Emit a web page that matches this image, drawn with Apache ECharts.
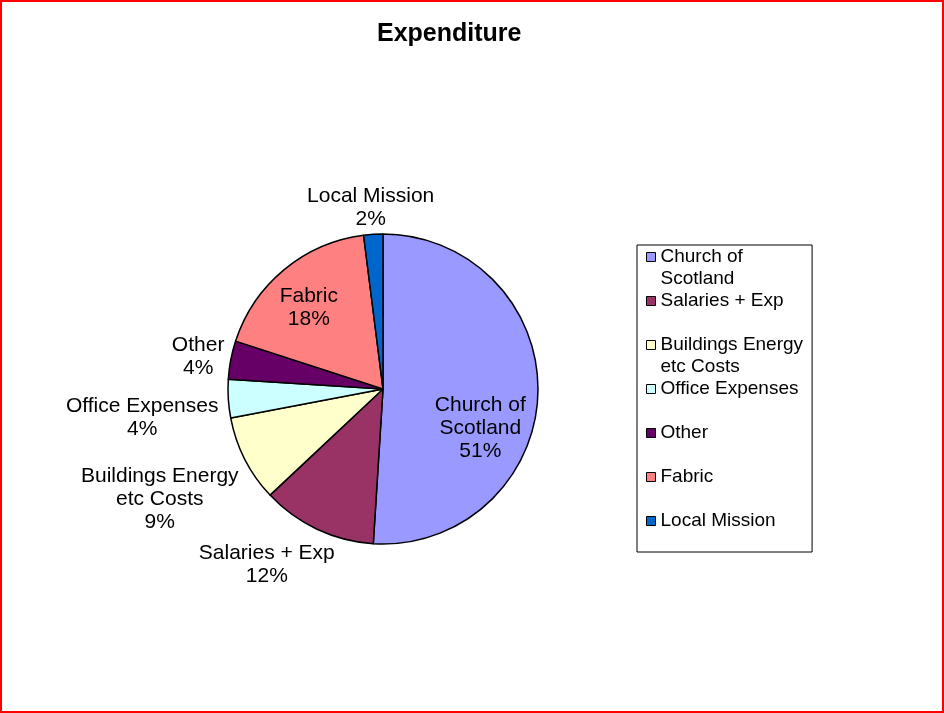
<!DOCTYPE html>
<html>
<head>
<meta charset="utf-8">
<title>Expenditure</title>
<script src="https://cdn.jsdelivr.net/npm/echarts@6/dist/echarts.min.js"></script>
<style>
  html, body { margin: 0; padding: 0; background: #fff; }
  #chart { position: absolute; left: 0; top: 0; width: 944px; height: 713px; }
  #frame { position: absolute; left: 0; top: 0; width: 944px; height: 713px; box-sizing: border-box; border: 2px solid #ff0000; pointer-events: none; }
</style>
</head>
<body>
<div id="chart"></div>
<div id="frame"></div>
<script>
  // data (percent of total)
  var categories = ['Church of Scotland', 'Salaries + Exp', 'Buildings Energy etc Costs', 'Office Expenses', 'Other', 'Fabric', 'Local Mission'];
  var values = [51, 12, 9, 4, 4, 18, 2];
  // how the names wrap in the labels and legend
  var wrappedNames = ['Church of\nScotland', 'Salaries + Exp', 'Buildings Energy\netc Costs', 'Office Expenses', 'Other', 'Fabric', 'Local Mission'];
  var colors = ['#9999ff', '#993366', '#ffffcc', '#ccffff', '#660066', '#ff8080', '#0066cc'];
  var insideLabels = ['Church of Scotland', 'Fabric'];
  // small hand nudges so the labels sit where Excel put them
  var labelNudge = [[-8, 36], [-17, 6], [-6, 20], [0, 17], [3, 3], [-7, 0], [2, 6]];

  var FONT = '"Liberation Sans", Arial, sans-serif';
  var PIE_CENTER = [383, 389];
  var PIE_R = 155;

  var chart = echarts.init(document.getElementById('chart'));

  var pieData = categories.map(function (name, i) {
    var item = { name: name, value: values[i] };
    if (insideLabels.indexOf(name) >= 0) {
      item.label = { position: 'inside' };
    }
    return item;
  });

  chart.setOption({
    animation: false,
    color: colors,
    title: {
      text: 'Expenditure',
      left: 372,
      top: 17,
      textStyle: { fontFamily: FONT, fontSize: 25, fontWeight: 'bold', color: '#000' }
    },
    legend: {
      orient: 'vertical',
      left: 637,
      top: 245,
      padding: [-21, 9, -2, 9],
      itemGap: -22,
      itemWidth: 9,
      itemHeight: 9,
      icon: 'rect',
      borderColor: '#000',
      borderWidth: 1,
      backgroundColor: '#fff',
      itemStyle: { borderColor: '#000', borderWidth: 1 },
      textStyle: { fontFamily: FONT, fontSize: 19, lineHeight: 22, color: '#000' },
      formatter: function (name) {
        var t = wrappedNames[categories.indexOf(name)];
        // two-line names get an empty first line so the icon sits on the first text line
        return t.indexOf('\n') >= 0 ? '\n' + t : t;
      },
      data: categories.map(function (name, i) {
        var twoLines = wrappedNames[i].indexOf('\n') >= 0;
        return { name: name, textStyle: { padding: twoLines ? 0 : [22, 0, 22, 0] } };
      })
    },
    series: [
      {
        type: 'pie',
        center: PIE_CENTER,
        radius: PIE_R,
        startAngle: 90,
        clockwise: true,
        avoidLabelOverlap: false,
        emphasis: { disabled: true },
        itemStyle: { borderColor: '#000', borderWidth: 1.5 },
        label: {
          show: true,
          position: 'outside',
          fontFamily: FONT,
          fontSize: 21,
          lineHeight: 23,
          color: '#000',
          formatter: function (p) {
            return wrappedNames[p.dataIndex] + '\n' + Math.round(p.percent) + '%';
          }
        },
        labelLine: { show: true, length: 10, length2: 0, lineStyle: { opacity: 0 } },
        labelLayout: function (p) {
          var r = p.labelRect;
          var pts = p.labelLinePoints;
          var nudge = labelNudge[p.dataIndex];
          var dx, dy, len;
          if (pts && pts.length >= 2) {
            // outside label: push the box out along the slice's mid direction
            dx = pts[1][0] - pts[0][0];
            dy = pts[1][1] - pts[0][1];
            len = Math.sqrt(dx * dx + dy * dy) || 1;
            dx /= len; dy /= len;
            return {
              x: pts[1][0] + dx * r.width / 2 + nudge[0],
              y: pts[1][1] + dy * r.height / 2 + nudge[1],
              align: 'center',
              verticalAlign: 'middle'
            };
          }
          // inside label: move further out from the centre
          var mx = r.x + r.width / 2, my = r.y + r.height / 2;
          dx = mx - PIE_CENTER[0];
          dy = my - PIE_CENTER[1];
          len = Math.sqrt(dx * dx + dy * dy) || 1;
          return {
            x: PIE_CENTER[0] + dx / len * PIE_R * 0.68 + nudge[0],
            y: PIE_CENTER[1] + dy / len * PIE_R * 0.68 + nudge[1],
            align: 'center',
            verticalAlign: 'middle'
          };
        },
        data: pieData
      }
    ]
  });
</script>
</body>
</html>
